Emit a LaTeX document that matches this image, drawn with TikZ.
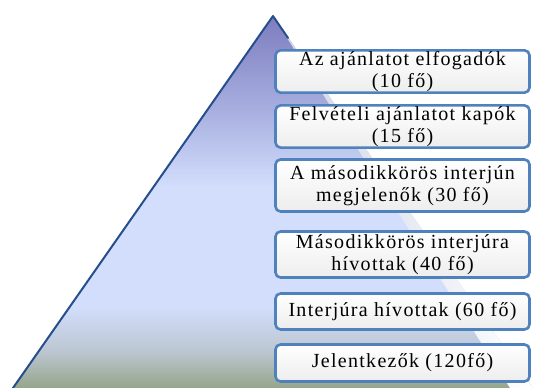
\documentclass[tikz,border=0pt]{standalone}
\usepackage{fontspec}
\setmainfont{Liberation Serif}
\newfontfamily\levelfont{Liberation Serif}[LetterSpace=6.5]
\usetikzlibrary{positioning,calc}
\definecolor{edge}{RGB}{38,78,140}
\definecolor{frame}{RGB}{79,129,189}
\definecolor{apex}{RGB}{125,125,190}
\definecolor{upper}{RGB}{165,172,222}
\definecolor{sky}{RGB}{210,222,252}
\definecolor{haze}{RGB}{188,198,210}
\definecolor{moss}{RGB}{150,166,138}
\definecolor{curl}{RGB}{205,205,215}
\pgfdeclareverticalshading{pyramid}{100bp}{color(0bp)=(moss); color(25bp)=(moss); color(30bp)=(haze); color(36bp)=(sky); color(52bp)=(sky); color(63bp)=(upper); color(75bp)=(apex); color(100bp)=(apex)}
\tikzset{
  level/.style={draw=frame,line width=2.6pt,rounded corners=5pt,top color=white,bottom color=black!7,
    minimum width=254pt,align=center,inner sep=1pt,font=\levelfont\fontsize{20}{22}\selectfont},
  rim/.style={draw=edge,line width=2pt,line join=round,line cap=round}
}
\begin{document}
\begin{tikzpicture}[x=1pt,y=1pt]
  \useasboundingbox (0,0) rectangle (533,388);
  \begin{scope}
    \clip (0,0) rectangle (533,388);
    \shade[shading=pyramid] (273,372) -- (13,0) -- (533,0) -- cycle;
    % folded right side
    \shade[left color=curl!60!sky,right color=white] (273,372) -- (533,0) -- (510,0) -- cycle;
    \draw[rim] (13,0) -- (273,372) -- (288,350);
  \end{scope}

  \node[level,minimum height=42pt] (accepted) at (402.5,316.5) {Az ajánlatot elfogadók\\(10 fő)};
  \node[level,minimum height=40pt] (offered) at (402.5,261.5) {Felvételi ajánlatot kapók\\(15 fő)};
  \node[level,minimum height=52pt] (attended) at (402.5,202.5) {A másodikkörös interjún\\megjelenők (30 fő)};
  \node[level,minimum height=46pt] (second) at (402.5,133.5) {Másodikkörös interjúra\\hívottak (40 fő)};
  \node[level,minimum height=36pt] (invited) at (402.5,76.5) {Interjúra hívottak (60 fő)};
  \node[level,minimum height=37pt] (applied) at (402.5,25) {Jelentkezők (120fő)};
\end{tikzpicture}
\end{document}
